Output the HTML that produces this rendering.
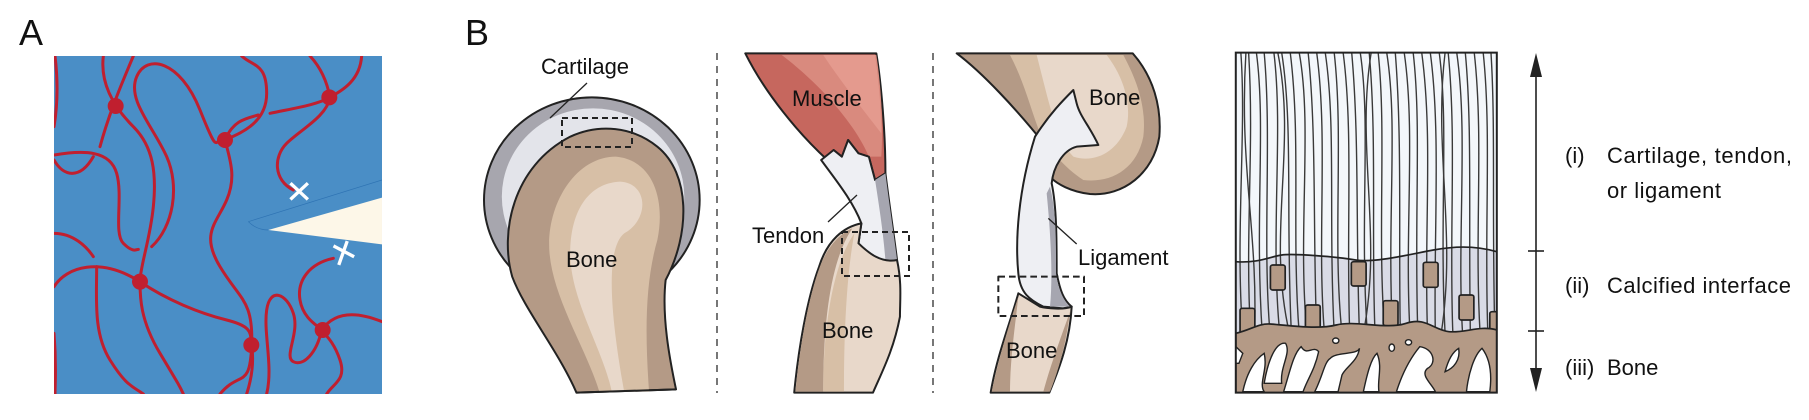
<!DOCTYPE html>
<html><head><meta charset="utf-8"><style>
html,body{margin:0;padding:0;background:#fff;width:1809px;height:420px;overflow:hidden}
svg{display:block}
text{font-family:"Liberation Sans",Arial,sans-serif;fill:#111}
.ns{vector-effect:non-scaling-stroke}
</style></head><body>
<svg width="1809" height="420" viewBox="0 0 1809 420" xmlns="http://www.w3.org/2000/svg">
<defs>
<clipPath id="ca"><rect x="162" y="168" width="984" height="1014"/></clipPath>
<clipPath id="cr"><rect x="92" y="158" width="671" height="1020"/></clipPath>
</defs>
<text x="19" y="45" font-size="36">A</text>
<text x="465" y="45" font-size="36">B</text>

<!-- Panel A -->
<g transform="scale(0.33333)">
<rect x="162" y="168" width="984" height="1014" fill="#4a8ec6"/>
<g clip-path="url(#ca)">
<polygon points="805,690 1146,593 1146,733" fill="#fdf7e8"/>
<path d="M745,665 Q770,690 805,690 M745,665 L1146,540" stroke="#2f74b4" stroke-width="2" fill="none"/>
<g stroke="#c01f2f" stroke-width="9" fill="none" stroke-linecap="round">
<path d="M310,168 C300,250 340,320 400,380 S470,520 460,620 S420,800 420,845 S420,960 480,1060 S540,1160 550,1182"/>
<path d="M400,168 C370,240 330,330 300,440"/>
<path d="M162,465 C250,450 330,450 350,520 S340,700 370,730 S410,748 415,748"/>
<path d="M162,480 C190,530 240,540 280,470"/>
<path d="M455,740 C520,680 540,560 500,470 S380,300 410,230 S540,180 600,330 S640,410 675,420"/>
<path d="M675,420 C720,400 800,370 800,280 S760,200 725,168"/>
<path d="M675,420 C700,360 740,355 775,345"/>
<path d="M810,340 C880,325 950,315 990,292 S1080,240 1085,168"/>
<path d="M930,168 C960,200 980,240 990,292 C980,350 900,390 860,430 S820,540 880,570"/>
<path d="M675,420 C690,480 710,530 680,600 S600,700 660,800 S760,900 755,1035 S720,1110 660,1182"/>
<path d="M162,700 C220,700 260,740 280,770"/>
<path d="M162,860 C200,800 300,770 420,845 C500,900 600,940 680,960 S750,1000 755,1035 S760,1120 740,1182"/>
<path d="M290,800 C290,900 280,1000 330,1080 S400,1160 430,1182"/>
<path d="M165,168 C175,250 172,320 162,380"/>
<path d="M162,1000 C170,1100 165,1150 165,1182"/>
<path d="M800,1182 C820,1100 790,1000 800,930 S860,880 880,940 S850,1070 880,1085 S950,1060 965,990"/>
<path d="M1000,775 C930,790 890,840 900,900 S960,980 965,990 S1000,1020 1020,1080 S1000,1150 980,1182"/>
<path d="M965,990 C1000,940 1060,930 1146,965"/>
</g>
<g fill="#c01f2f">
<circle cx="347" cy="318" r="24"/><circle cx="675" cy="420" r="24"/><circle cx="988" cy="292" r="24"/>
<circle cx="420" cy="845" r="24"/><circle cx="754" cy="1035" r="24"/><circle cx="968" cy="990" r="24"/>
</g>
<g stroke="#fff" stroke-width="10" stroke-linecap="square">
<path d="M875,553 L920,595 M920,553 L875,595"/>
<path d="M1005,740 L1058,768 M1040,728 L1018,790"/>
</g>
</g>
</g>

<!-- dividers -->
<g stroke="#555" stroke-width="1.6" stroke-dasharray="7,6">
<line x1="717" y1="53" x2="717" y2="393"/>
<line x1="933" y1="53" x2="933" y2="393"/>
</g>

<!-- Shoulder + muscle -->
<g transform="translate(450,0) scale(0.4147,0.33333)" stroke-linejoin="round">
<ellipse cx="342" cy="600" rx="260" ry="308" fill="#a7a6ae" stroke="#222" stroke-width="2" class="ns"/>
<ellipse cx="345" cy="590" rx="220" ry="265" fill="#e3e4ea"/>
<path d="M305,1178 C260,1050 180,930 150,830 C120,700 150,500 290,410 C360,370 440,380 500,440 C580,520 580,700 520,840 C510,950 530,1080 545,1168 Z" fill="#b49a86" stroke="#222" stroke-width="2" class="ns"/>
<path d="M360,1175 C330,1050 250,900 240,760 C230,620 300,470 400,470 C490,480 520,600 500,720 C470,850 470,1000 480,1175 Z" fill="#d7bfa6"/>
<path d="M390,1175 C370,1050 290,900 290,760 C290,640 330,550 410,545 C480,550 480,660 420,700 C380,740 380,900 420,1175 Z" fill="#e8d8ca"/>
<path d="M305,1178 L545,1168" stroke="#222" stroke-width="2" class="ns"/>

<path d="M712,160 L1028,160 C1040,250 1050,400 1050,520 L1025,540 L1010,470 L985,460 L960,420 L945,470 L925,450 L910,480 C840,400 760,280 712,160 Z" fill="#c6675e" stroke="#222" stroke-width="2" class="ns"/>
<path d="M800,165 L1028,165 C1040,260 1045,380 1040,470 L1010,470 C980,380 900,260 800,165 Z" fill="#d98a7e"/>
<path d="M900,165 L1025,165 C1035,260 1040,330 1040,400 C990,320 940,240 900,165 Z" fill="#e49a8e"/>
<path d="M895,480 L925,450 L945,470 L960,420 L985,460 L1010,470 L1025,540 L1050,520 C1060,620 1070,700 1078,780 L1040,790 C1010,760 990,740 985,730 L992,670 C970,600 930,540 895,480 Z" fill="#eeeff3" stroke="#222" stroke-width="2" class="ns"/>
<path d="M1025,540 L1050,520 C1060,620 1070,700 1078,780 L1050,782 C1045,700 1035,620 1025,540 Z" fill="#a6a6b0"/>
<path d="M830,1178 C840,1050 860,900 890,800 C910,720 950,680 992,670 L985,730 C1010,760 1040,790 1078,780 C1090,850 1085,900 1085,950 C1070,1050 1040,1120 1020,1178 Z" fill="#e8d8ca" stroke="#222" stroke-width="2" class="ns"/>
<path d="M833,1175 C843,1050 862,900 892,800 C910,740 940,700 970,685 C930,760 900,900 900,1175 Z" fill="#b49a86"/>
<path d="M900,1175 C900,950 930,780 975,700 C960,800 950,950 950,1175 Z" fill="#d7bfa6"/>
</g>
<g fill="none" stroke="#222">
<rect x="562" y="118" width="70" height="29" stroke-width="2" stroke-dasharray="6,4"/>
<rect x="842" y="232" width="67" height="44" stroke-width="2" stroke-dasharray="6,4"/>
<line x1="587" y1="83" x2="550" y2="118" stroke-width="1.3"/>
<line x1="857" y1="195" x2="828" y2="222" stroke-width="1.3"/>
</g>
<text x="541" y="74" font-size="22">Cartilage</text>
<text x="566" y="267" font-size="22">Bone</text>
<text x="792" y="106" font-size="22">Muscle</text>
<text x="752" y="243" font-size="22">Tendon</text>
<text x="822" y="338" font-size="22">Bone</text>

<!-- Ligament -->
<g transform="translate(950,40) scale(0.33333)" stroke-linejoin="round">
<path d="M20,40 L548,40 C610,110 635,200 628,290 C610,400 520,470 420,462 C360,455 320,430 305,415 L265,290 C200,210 100,100 20,40 Z" fill="#b49a86" stroke="#222" stroke-width="6"/>
<path d="M180,45 L520,45 C560,120 590,200 580,290 C560,390 480,430 400,420 C340,380 300,330 270,280 C240,200 220,120 180,45 Z" fill="#d7bfa6"/>
<path d="M260,45 L470,45 C520,110 545,190 530,260 C500,340 430,370 370,350 C320,300 300,200 260,45 Z" fill="#e8d8ca"/>
<path d="M255,290 C300,220 340,180 370,150 L380,190 C390,230 420,260 445,315 L380,320 C340,330 310,380 305,430 C320,500 320,600 320,700 C330,750 340,780 365,800 L340,805 L280,800 C240,780 210,760 205,700 C195,600 205,450 255,290 Z" fill="#eeeff3" stroke="#222" stroke-width="6"/>
<path d="M300,440 C320,520 318,620 318,700 C325,750 340,780 360,800 L300,800 C310,700 300,560 290,460 Z" fill="#a6a6b0"/>
<path d="M205,760 C180,850 140,950 122,1058 L298,1058 C330,980 360,900 365,800 C340,810 290,805 270,800 Z" fill="#e8d8ca" stroke="#222" stroke-width="6"/>
<path d="M280,1055 C300,980 330,900 360,815 C350,900 330,980 300,1055 Z M125,1055 C145,960 175,860 205,770 C195,860 180,960 180,1055 Z" fill="#b49a86"/>
<path d="M295,535 L380,612" stroke="#222" stroke-width="4"/>
<rect x="145" y="710" width="257" height="118" fill="none" stroke="#222" stroke-width="6" stroke-dasharray="20,12"/>
</g>
<text x="1089" y="105" font-size="22">Bone</text>
<text x="1078" y="265" font-size="22">Ligament</text>
<text x="1006" y="358" font-size="22">Bone</text>

<!-- Right panel -->
<g transform="translate(1200,0) scale(0.389,0.33333)">
<rect x="92" y="158" width="671" height="1020" fill="#f3f7fb"/>
<g clip-path="url(#cr)">
<path d="M92,785 C150,790 180,770 210,765 S350,770 400,780 S550,760 600,750 S700,735 763,755 L763,1000 L92,1000 Z" fill="#d9dbe6"/>
<g stroke="#3a3a3a" stroke-width="1.4" fill="none">
<path class="ns" d="M105,158 C120,400 90,700 110,1000"/><path class="ns" d="M125,158 C140,450 115,700 130,1000"/>
<path class="ns" d="M145,158 C170,380 140,650 160,1000"/><path class="ns" d="M165,158 C185,420 160,720 180,1000"/>
<path class="ns" d="M190,158 C215,400 180,700 205,1000"/><path class="ns" d="M210,158 C240,380 220,650 235,1000"/>
<path class="ns" d="M232,158 C260,420 235,700 255,1000"/><path class="ns" d="M255,158 C290,380 250,700 275,1000"/>
<path class="ns" d="M278,158 C300,400 290,700 300,1000"/><path class="ns" d="M300,158 C330,420 300,720 320,1000"/>
<path class="ns" d="M322,158 C350,380 330,650 345,1000"/><path class="ns" d="M345,158 C370,420 340,720 365,1000"/>
<path class="ns" d="M368,158 C395,400 375,700 385,1000"/><path class="ns" d="M390,158 C410,420 400,700 410,1000"/>
<path class="ns" d="M412,158 C440,380 410,650 430,1000"/><path class="ns" d="M435,158 C455,420 440,720 450,1000"/>
<path class="ns" d="M458,158 C480,400 455,700 475,1000"/><path class="ns" d="M480,158 C510,380 480,650 495,1000"/>
<path class="ns" d="M502,158 C520,420 510,720 515,1000"/><path class="ns" d="M525,158 C555,400 525,700 540,1000"/>
<path class="ns" d="M548,158 C570,380 550,650 560,1000"/><path class="ns" d="M570,158 C600,420 575,700 585,1000"/>
<path class="ns" d="M592,158 C620,400 600,720 605,1000"/><path class="ns" d="M615,158 C640,380 615,650 630,1000"/>
<path class="ns" d="M638,158 C660,420 640,700 650,1000"/><path class="ns" d="M660,158 C690,400 660,720 675,1000"/>
<path class="ns" d="M682,158 C700,380 690,650 695,1000"/><path class="ns" d="M705,158 C730,420 705,700 720,1000"/>
<path class="ns" d="M728,158 C750,400 730,700 740,1000"/><path class="ns" d="M748,158 C760,380 750,650 758,1000"/>
<path class="ns" d="M118,158 C100,500 150,700 140,1000"/><path class="ns" d="M630,158 C600,450 660,700 620,1000"/>
<path class="ns" d="M200,158 C250,450 170,700 230,1000"/><path class="ns" d="M440,158 C400,450 470,700 420,1000"/>
</g>
<path class="ns" d="M92,785 C150,790 180,770 210,765 S350,770 400,780 S550,760 600,750 S700,735 763,755" stroke="#222" stroke-width="1.7" fill="none"/>
<g fill="#b49a86" stroke="#222" stroke-width="1.7">
<rect class="ns" x="181" y="795" width="38" height="75" rx="6"/><rect class="ns" x="389" y="785" width="38" height="73" rx="6"/>
<rect class="ns" x="574" y="787" width="38" height="75" rx="6"/><rect class="ns" x="666" y="885" width="38" height="75" rx="6"/>
<rect class="ns" x="471" y="902" width="38" height="75" rx="6"/><rect class="ns" x="271" y="915" width="38" height="75" rx="6"/>
<rect class="ns" x="103" y="925" width="38" height="75" rx="6"/><rect class="ns" x="745" y="935" width="38" height="75" rx="6"/>
</g>
<path class="ns" d="M92,1000 C130,990 150,970 180,972 S300,990 350,975 S480,990 530,970 S600,990 640,995 S720,975 763,990 L763,1178 L92,1178 Z" fill="#b49a86" stroke="#222" stroke-width="1.7"/>
<g fill="#fff" stroke="#222" stroke-width="1.4">
<path class="ns" d="M92,1040 L110,1060 L100,1090 L92,1090 Z"/>
<path class="ns" d="M110,1175 C120,1120 140,1080 165,1060 C175,1110 150,1150 165,1175 Z"/>
<path class="ns" d="M165,1150 C175,1080 195,1025 220,1030 C235,1060 205,1100 210,1150 Z"/>
<path class="ns" d="M215,1175 C230,1120 240,1060 260,1040 C275,1070 290,1035 305,1055 C295,1110 275,1140 265,1175 Z"/>
<path class="ns" d="M295,1175 C315,1130 320,1085 335,1075 C350,1055 405,1065 410,1045 C405,1085 375,1100 365,1125 L355,1175 Z"/>
<path class="ns" d="M420,1175 C430,1120 440,1075 455,1060 C470,1100 455,1140 460,1175 Z"/>
<path class="ns" d="M505,1175 C520,1120 540,1075 565,1040 C600,1045 610,1090 585,1105 C565,1125 595,1150 605,1175 Z"/>
<path class="ns" d="M630,1115 C638,1080 650,1055 665,1045 C670,1080 652,1105 630,1115 Z"/>
<path class="ns" d="M685,1175 C690,1120 705,1065 725,1045 C748,1080 750,1130 745,1175 Z"/>
<ellipse class="ns" cx="349" cy="1022" rx="8" ry="8"/><ellipse class="ns" cx="536" cy="1027" rx="8" ry="8"/><ellipse class="ns" cx="493" cy="1043" rx="7" ry="11"/>
</g>
</g>
<rect class="ns" x="92" y="158" width="671" height="1020" fill="none" stroke="#222" stroke-width="2"/>
</g>
<g stroke="#222" stroke-width="1.6">
<line x1="1536" y1="70" x2="1536" y2="380"/>
<line x1="1528" y1="251" x2="1544" y2="251"/>
<line x1="1528" y1="331" x2="1544" y2="331"/>
</g>
<polygon points="1536,53 1530,77 1542,77" fill="#222"/>
<polygon points="1536,392 1530,368 1542,368" fill="#222"/>
<text x="1565" y="163" font-size="22">(i)</text>
<text x="1607" y="163" font-size="22" textLength="185">Cartilage, tendon,</text>
<text x="1607" y="198" font-size="22" textLength="114">or ligament</text>
<text x="1565" y="293" font-size="22">(ii)</text>
<text x="1607" y="293" font-size="22" textLength="184">Calcified interface</text>
<text x="1565" y="375" font-size="22">(iii)</text>
<text x="1607" y="375" font-size="22">Bone</text>
</svg>
</body></html>
